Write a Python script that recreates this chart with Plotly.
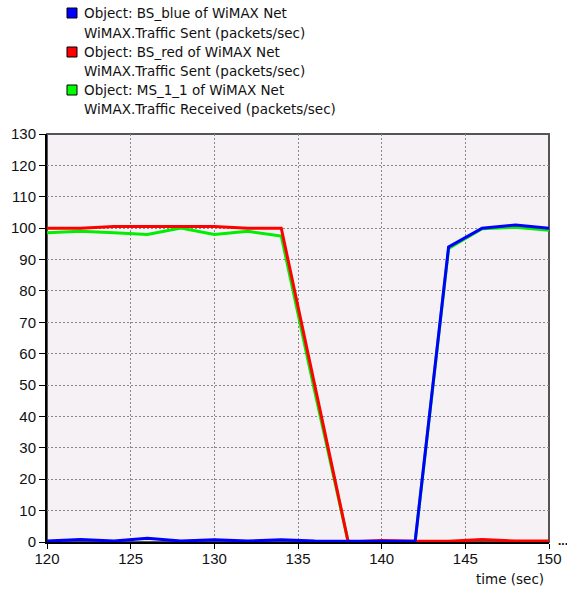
import plotly.graph_objects as go

time = [120, 122, 124, 126, 128, 130, 132, 134, 136, 138, 140, 142, 144, 146, 148, 150]
bs_blue = [0.3, 0.8, 0.3, 1.2, 0.3, 0.7, 0.3, 0.7, 0.3, 0.2, 0.2, 0.2, 94.0, 100.0, 101.0, 100.0]
bs_red = [100.0, 100.0, 100.5, 100.5, 100.5, 100.5, 100.0, 100.0, 50.0, 0.0, 0.5, 0.2, 0.2, 0.8, 0.3, 0.3]
ms_green = [98.5, 99.0, 98.5, 98.0, 100.0, 98.0, 99.0, 97.5, 48.0, 0.0, 0.0, 0.0, 93.5, 99.8, 100.3, 99.3]

legend_names = [
    ("Object: BS_blue of WiMAX Net", "WiMAX.Traffic Sent (packets/sec)", "#0000ff"),
    ("Object: BS_red of WiMAX Net", "WiMAX.Traffic Sent (packets/sec)", "#ff0000"),
    ("Object: MS_1_1 of WiMAX Net", "WiMAX.Traffic Received (packets/sec)", "#00ff00"),
]

W, H = 567, 593
L, R, T, B = 47, 549, 134, 542

def px(x):
    return (x - L) / (R - L)

def py(y):
    return (B - y) / (B - T)

fig = go.Figure()
fig.add_trace(go.Scatter(x=time, y=ms_green, mode="lines", line=dict(color="#00ee00", width=3), showlegend=False))
fig.add_trace(go.Scatter(x=time, y=bs_red, mode="lines", line=dict(color="#ff0000", width=3), showlegend=False))
fig.add_trace(go.Scatter(x=time, y=bs_blue, mode="lines", line=dict(color="#0000ff", width=3), showlegend=False))

font = "Liberation Sans, Arial, sans-serif"
lfont = "DejaVu Sans, Verdana, sans-serif"
shapes = []
annotations = []
line_y = [13, 33, 52, 71, 90, 109]
for i, (l1, l2, col) in enumerate(legend_names):
    y1 = line_y[2 * i]
    y2 = line_y[2 * i + 1]
    shapes.append(dict(type="rect", xref="paper", yref="paper",
                       x0=px(67), x1=px(77), y0=py(y1 - 5), y1=py(y1 + 5),
                       fillcolor=col, line=dict(color="#000000", width=1)))
    annotations.append(dict(xref="paper", yref="paper", x=px(82), y=py(y1), text=l1,
                            showarrow=False, xanchor="left", yanchor="middle",
                            font=dict(family=lfont, size=13.5, color="#111")))
    annotations.append(dict(xref="paper", yref="paper", x=px(82), y=py(y2), text=l2,
                            showarrow=False, xanchor="left", yanchor="middle",
                            font=dict(family=lfont, size=13.5, color="#111")))

annotations.append(dict(xref="paper", yref="paper", x=px(546), y=py(579), text="time (sec)",
                        showarrow=False, xanchor="right", yanchor="middle",
                        font=dict(family=lfont, size=13.5, color="#111")))
annotations.append(dict(xref="paper", yref="paper", x=px(556), y=py(550), text="<b>...</b>",
                        showarrow=False, xanchor="left", yanchor="bottom",
                        font=dict(family=font, size=12, color="#111")))

# plot border (top/right gray)
shapes.append(dict(type="rect", xref="paper", yref="paper", x0=0, x1=1, y0=0, y1=1,
                   line=dict(color="#555555", width=2), layer="below"))

fig.update_layout(
    width=W, height=H,
    margin=dict(l=L, r=W - R, t=T, b=H - B, pad=0, autoexpand=False),
    paper_bgcolor="#ffffff",
    plot_bgcolor="#f5f1f5",
    shapes=shapes,
    annotations=annotations,
    font=dict(family=font, size=14, color="#111"),
)
fig.update_xaxes(range=[120, 150], dtick=5, tick0=120, showgrid=True,
                 gridcolor="#888888", griddash="2px,2px", gridwidth=1,
                 showline=True, linecolor="#000000", linewidth=2,
                 ticks="outside", ticklen=5, tickcolor="#000000",
                 zeroline=False, tickfont=dict(size=15), automargin=False,
                 ticklabelstandoff=-3)
fig.update_yaxes(range=[0, 130], dtick=10, tick0=0, showgrid=True,
                 gridcolor="#888888", griddash="2px,2px", gridwidth=1,
                 showline=True, linecolor="#000000", linewidth=2,
                 ticks="outside", ticklen=6, tickcolor="#000000",
                 zeroline=False, tickfont=dict(size=15), automargin=False)

fig.write_html("out.html", config={"displayModeBar": False},
               post_script="document.body.style.margin='0';document.body.style.overflow='hidden';")
